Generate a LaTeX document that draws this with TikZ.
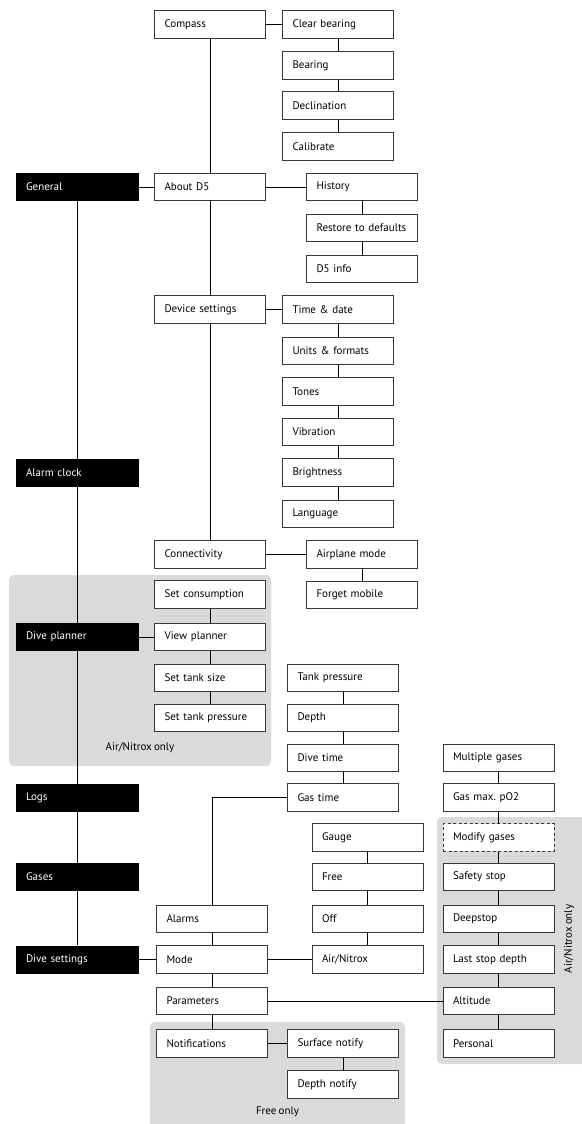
\documentclass[tikz,border=0pt]{standalone}
\usepackage{fontspec}
\setmainfont{PT Sans}[WordSpace=0.75]
\frenchspacing
\usetikzlibrary{positioning,backgrounds}
\definecolor{frame}{RGB}{55,55,55}
\definecolor{shade}{RGB}{218,218,218}
\tikzset{
  item/.style={draw=frame,fill=white,line width=0.9pt,minimum height=27.5pt,
    text width=91pt,inner xsep=10pt,inner ysep=0pt,align=left,font=\fontsize{11}{13}\selectfont},
  menu/.style={fill=black,text=white,minimum height=28pt,text width=103pt,
    inner xsep=10pt,inner ysep=0pt,align=left,font=\fontsize{11}{13}\selectfont},
  link/.style={draw=black,line width=0.8pt},
  zone/.style={fill=shade,rounded corners=5pt},
  note/.style={font=\fontsize{11}{13}\selectfont},
}

\begin{document}
\begin{tikzpicture}[x=1pt,y=-1pt]
  \useasboundingbox (0,0) rectangle (581,1124);
  % main menu
  \foreach \t/\y/\n in {General/187/gen,Alarm clock/472.5/alm,Dive planner/637/plan,Logs/797.5/logs,Gases/877/gas,Dive settings/959.5/dset}
    \node[menu] (\n) at (77.5,\y) {\t};
  % second level
  \foreach \t/\y/\n in {Compass/24.5/comp,About D5/187/about,Device settings/309.5/dev,Connectivity/554.5/conn,Set consumption/594.5/cons,View planner/637/view,Set tank size/678/tsize,Set tank pressure/718/tpres}
    \node[item] (\n) at (210,\y) {\t};
  \foreach \t/\y/\n in {Alarms/919/alarms,Mode/959.5/mode,Parameters/1001/par,Notifications/1043.5/notif}
    \node[item] (\n) at (212,\y) {\t};
  % third level
  \foreach \t/\y/\n in {Clear bearing/24.5/clr,Bearing/65.5/bear,Declination/105.5/decl,Calibrate/146.5/cal,Time \& date/309.5/time,Units \& formats/351/units,Tones/391.5/tones,Vibration/432/vib,Brightness/472.5/bright,Language/514/lang}
    \node[item] (\n) at (338,\y) {\t};
  \foreach \t/\y/\n in {History/187/hist,Restore to defaults/228/rest,D5 info/269/info,Airplane mode/554.5/air,Forget mobile/595/forget}
    \node[item] (\n) at (362,\y) {\t};
  \foreach \t/\y/\n in {Tank pressure/678/tank,Depth/718/depth,Dive time/758/dtime,Gas time/797.5/gtime,Surface notify/1043.5/surf,Depth notify/1084.5/dnot}
    \node[item] (\n) at (343,\y) {\t};
  \foreach \t/\y/\n in {Gauge/837.5/gauge,Free/877/free,Off/919/off,{Air/Nitrox}/959.5/airnx}
    \node[item] (\n) at (367.5,\y) {\t};
  \foreach \t/\y/\n in {Multiple gases/758/multi,Gas max. pO2/797.5/pmax,Safety stop/877/safety,Deepstop/919/deep,Last stop depth/959.5/last,Altitude/1001/alt,Personal/1043.5/pers}
    \node[item] (\n) at (498.5,\y) {\t};
  \node[item,dash pattern=on 3pt off 2.5pt] (modify) at (498.5,837.5) {Modify gases};

  \node[note] (nxplan) at (140,748) {Air/Nitrox only};
  \node[note,rotate=90] (nxgas) at (569,939) {Air/Nitrox only};
  \node[note] (freeonly) at (277.5,1112) {Free only};

  \begin{scope}[on background layer]
    \fill[zone] (9,575) rectangle (271,766);
    \fill[zone] (437,817) rectangle (592,1064);
    \fill[zone] (150,1022) rectangle (405,1135);
    \draw[link] (gen.south) -- (dset.north);
    \foreach \a/\b in {comp/about,about/dev,dev/conn,cons/view,view/tsize,tsize/tpres,alarms/mode,mode/par,par/notif,
      clr/bear,bear/decl,decl/cal,hist/rest,rest/info,time/units,units/tones,tones/vib,vib/bright,bright/lang,air/forget,
      tank/depth,depth/dtime,dtime/gtime,gauge/free,free/off,off/airnx,multi/pmax,pmax/modify,modify/safety,
      safety/deep,deep/last,last/alt,alt/pers,surf/dnot}
      \draw[link] (\a.south) -- (\b.north);
    \foreach \a/\b in {gen/about,comp/clr,about/hist,dev/time,conn/air,plan/view,dset/mode,mode/airnx,par/alt,notif/surf}
      \draw[link] (\a.east) -- (\b.west);
    \draw[link] (gtime.west) -| (alarms.north);
  \end{scope}
\end{tikzpicture}
\end{document}
